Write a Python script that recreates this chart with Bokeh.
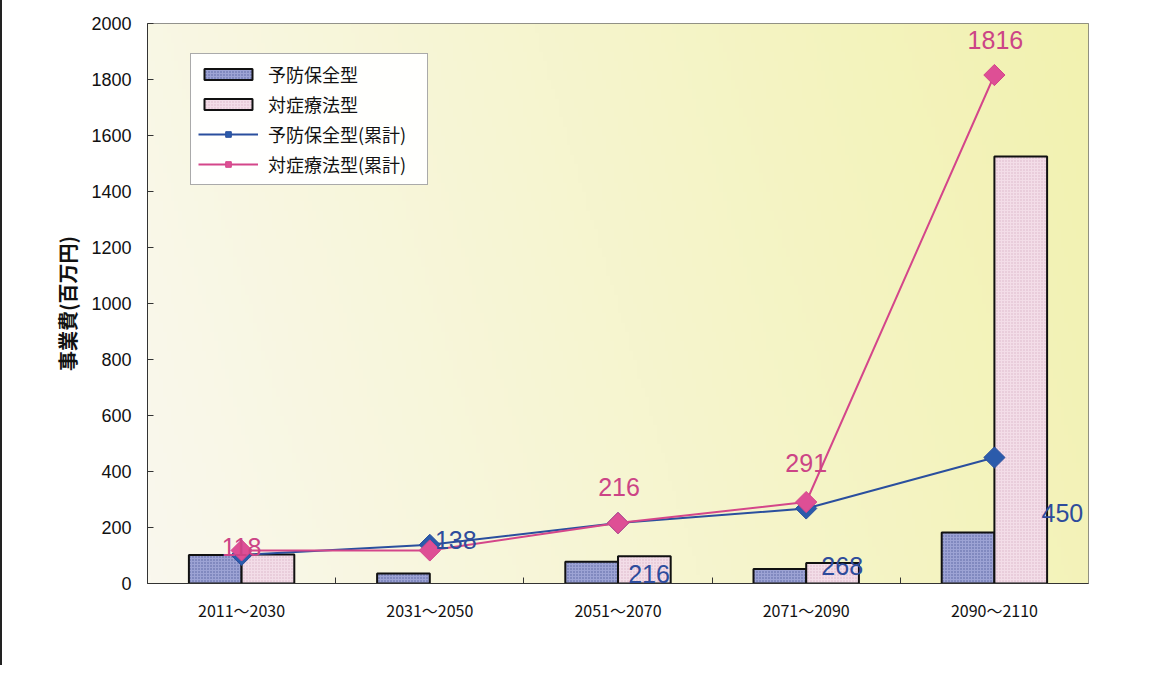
import numpy as np
from bokeh.plotting import figure
from bokeh.models import FixedTicker, Legend, LegendItem, Range1d, ColumnDataSource
from bokeh.core.properties import value
from bokeh.embed import file_html
from bokeh.resources import INLINE

# ---- data ----
categories = ["2011～2030", "2031～2050", "2051～2070", "2071～2090", "2090～2110"]
yobou = [102, 36, 78, 52, 182]          # 予防保全型
taisho = [104, 0, 97, 73, 1525]         # 対症療法型
yobou_cum = [102, 138, 216, 268, 450]   # 予防保全型(累計)
taisho_cum = [118, 118, 216, 291, 1816] # 対症療法型(累計)
y_ticks = [0, 200, 400, 600, 800, 1000, 1200, 1400, 1600, 1800, 2000]

# label offsets (screen px) for the data labels
blue_dx = [-29, 26, 31, 36, 68]
blue_dy = [41, -5, 51, 58, 55]
pink_dx = [0, 38, 1, 0, 1]
pink_dy = [-3, 45, -36, -39, -35]

JP = "Noto Sans CJK JP"
NUM = "Liberation Sans"

n = len(categories)
xc = [i + 0.5 for i in range(n)]
bw = 0.28
x_blue = [x - bw / 2 for x in xc]
x_pink = [x + bw / 2 for x in xc]

p = figure(width=1160, height=665, x_range=Range1d(0, n), y_range=Range1d(0, 2000),
           output_backend="svg", toolbar_location=None,
           min_border_left=145, min_border_top=23, min_border_right=74, min_border_bottom=82)
p.styles = {"border-left": "2px solid #222"}

p.xgrid.visible = False
p.ygrid.visible = False
p.background_fill_color = "#f6f5dc"
p.border_fill_color = "white"
p.outline_line_color = "#707070"
p.outline_line_width = 1

# background gradient (cream -> yellow)
nx, ny = 240, 60
U, V = np.meshgrid(np.linspace(0, 1, nx), np.linspace(0, 1, ny))
t = np.clip(0.85 * U + 0.15 * V, 0, 1)
c0 = np.array([250, 248, 238])
c1 = np.array([242, 242, 176])
img = np.empty((ny, nx), dtype=np.uint32)
view = img.view(dtype=np.uint8).reshape((ny, nx, 4))
for k in range(3):
    view[:, :, k] = (c0[k] + (c1[k] - c0[k]) * t).astype(np.uint8)
view[:, :, 3] = 255
p.image_rgba(image=[img], x=0, y=0, dw=n, dh=2000)

# bars
src_b = ColumnDataSource(dict(x=x_blue, top=yobou, la=[1.0 if v > 0 else 0.0 for v in yobou]))
src_p = ColumnDataSource(dict(x=x_pink, top=taisho, la=[1.0 if v > 0 else 0.0 for v in taisho]))
rb = p.vbar(x="x", top="top", source=src_b, width=bw, fill_color="#9da3d4", line_color="#111111",
            line_width=2, line_alpha="la",
            hatch_pattern="dot", hatch_color="#56609f", hatch_scale=3, hatch_weight=1)
rp = p.vbar(x="x", top="top", source=src_p, width=bw, fill_color="#f3dde8", line_color="#111111",
            line_width=2, line_alpha="la",
            hatch_pattern="dot", hatch_color="#d9b3c8", hatch_scale=3, hatch_weight=1)

# cumulative lines
BLUE = "#2a4f9e"
PINK = "#d4468a"
lb = p.line(xc, yobou_cum, line_color=BLUE, line_width=2)
mb = p.scatter(xc, yobou_cum, marker="square", angle=np.pi / 4, size=15,
               fill_color="#2b5bab", line_color=BLUE)
lp = p.line(xc, taisho_cum, line_color=PINK, line_width=2)
mp = p.scatter(xc, taisho_cum, marker="square", angle=np.pi / 4, size=15,
               fill_color="#de4f95", line_color=PINK)

# data labels
p.text(x=xc, y=yobou_cum, text=[str(v) for v in yobou_cum], x_offset=blue_dx, y_offset=blue_dy,
       text_align="center", text_baseline="middle", text_font=value(NUM),
       text_font_size="25px", text_color="#2e4c9c")
p.text(x=xc, y=taisho_cum, text=[str(v) for v in taisho_cum], x_offset=pink_dx, y_offset=pink_dy,
       text_align="center", text_baseline="middle", text_font=value(NUM),
       text_font_size="25px", text_color="#cc4486")

# axes
p.yaxis.ticker = FixedTicker(ticks=y_ticks)
p.yaxis.major_tick_in = 6
p.yaxis.major_tick_out = 0
p.yaxis.minor_tick_line_color = None
p.yaxis.axis_line_color = "#333333"
p.yaxis.major_tick_line_color = "#333333"
p.yaxis.major_label_text_font = NUM
p.yaxis.major_label_text_font_size = "18px"
p.yaxis.major_label_text_color = "#111111"
p.yaxis.major_label_standoff = 16
p.yaxis.axis_label = "事業費(百万円)"
p.yaxis.axis_label_text_font = JP
p.yaxis.axis_label_text_font_size = "20px"
p.yaxis.axis_label_text_font_style = "bold"
p.yaxis.axis_label_text_color = "#111111"
p.yaxis.axis_label_standoff = 6

p.xaxis.ticker = FixedTicker(ticks=xc, minor_ticks=[i for i in range(1, n)])
p.xaxis.major_label_overrides = {x: c for x, c in zip(xc, categories)}
p.xaxis.major_tick_in = 0
p.xaxis.major_tick_out = 0
p.xaxis.minor_tick_in = 6
p.xaxis.minor_tick_out = 0
p.xaxis.minor_tick_line_color = "#333333"
p.xaxis.axis_line_color = "#333333"
p.xaxis.major_label_text_font = JP
p.xaxis.major_label_text_font_size = "16px"
p.xaxis.major_label_text_color = "#111111"
p.xaxis.major_label_standoff = 14

legend = Legend(items=[
    LegendItem(label="予防保全型", renderers=[rb]),
    LegendItem(label="対症療法型", renderers=[rp]),
    LegendItem(label="予防保全型(累計)", renderers=[lb, mb]),
    LegendItem(label="対症療法型(累計)", renderers=[lp, mp]),
], location=(43, 398))
legend.glyph_width = 60
legend.glyph_height = 14
legend.label_height = 22
legend.label_width = 152
legend.spacing = 4
legend.padding = 7
legend.margin = 0
legend.label_standoff = 10
legend.label_text_font = JP
legend.label_text_font_size = "18px"
legend.label_text_color = "#111111"
legend.border_line_color = "#555555"
legend.border_line_width = 1
legend.background_fill_color = "white"
legend.background_fill_alpha = 0.95
p.add_layout(legend, "center")

open("out.html", "w").write(file_html(p, INLINE))
